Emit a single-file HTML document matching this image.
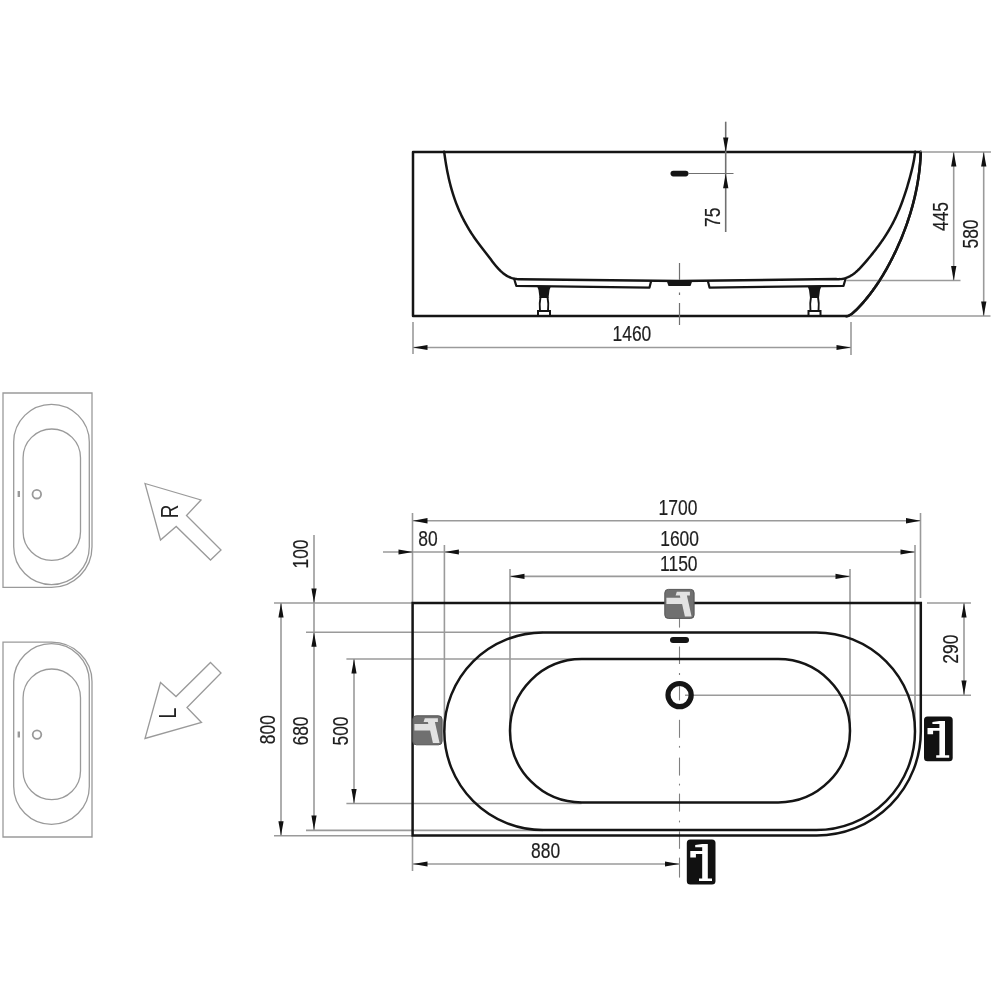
<!DOCTYPE html>
<html><head><meta charset="utf-8"><style>
html,body{margin:0;padding:0;background:#fff;width:1000px;height:1000px;overflow:hidden}
svg{display:block;will-change:transform}
</style></head><body>
<svg width="1000" height="1000" viewBox="0 0 1000 1000">
<rect width="1000" height="1000" fill="#fff"/>
<g fill="none" stroke="#151515" stroke-width="2.50" stroke-linejoin="round" stroke-linecap="round">
<path d="M413,152 H920 M413,152 V316 H846"/>
<path d="M444.17,151.76 L444.38,153.32 L444.59,154.87 L444.81,156.43 L445.04,157.99 L445.27,159.54 L445.51,161.10 L445.76,162.65 L446.02,164.21 L446.28,165.76 L446.56,167.32 L446.84,168.87 L447.13,170.42 L447.43,171.97 L447.75,173.52 L448.07,175.06 L448.40,176.61 L448.74,178.15 L449.10,179.68 L449.46,181.22 L449.83,182.75 L450.22,184.28 L450.62,185.81 L451.03,187.34 L451.45,188.86 L451.89,190.37 L452.34,191.89 L452.80,193.40 L453.27,194.90 L453.76,196.40 L454.26,197.90 L454.78,199.39 L455.31,200.87 L455.85,202.36 L456.41,203.83 L456.99,205.30 L457.58,206.77 L458.19,208.23 L458.81,209.68 L459.44,211.13 L460.09,212.57 L460.76,214.00 L461.43,215.43 L462.13,216.85 L462.83,218.26 L463.55,219.67 L464.28,221.07 L465.03,222.46 L465.79,223.85 L466.56,225.22 L467.35,226.59 L468.14,227.95 L468.95,229.30 L469.77,230.64 L470.61,231.98 L471.45,233.30 L472.31,234.62 L473.18,235.92 L474.05,237.22 L474.94,238.51 L475.84,239.78 L476.75,241.05 L477.67,242.31 L478.61,243.55 L479.55,244.79 L480.49,246.03 L481.45,247.26 L482.41,248.49 L483.37,249.72 L484.34,250.95 L485.31,252.19 L486.28,253.44 L487.25,254.70 L488.22,255.97 L489.19,257.26 L490.16,258.55 L491.13,259.85 L492.11,261.14 L493.10,262.43 L494.10,263.71 L495.11,264.97 L496.14,266.21 L497.18,267.42 L498.25,268.60 L499.34,269.75 L500.46,270.85 L501.60,271.91 L502.77,272.91 L503.98,273.86 L505.22,274.75 L506.50,275.58 L507.82,276.33 L509.18,277.00 L510.59,277.60 L512.04,278.11 L513.55,278.52 L515.10,278.84 L516.71,279.06 L518.38,279.18 L520.11,279.18 L679.5,281 L835.94,279.10 L837.44,279.19 L838.89,279.19 L840.30,279.12 L841.67,278.96 L843.00,278.74 L844.29,278.44 L845.55,278.08 L846.77,277.66 L847.96,277.17 L849.12,276.63 L850.25,276.04 L851.35,275.39 L852.43,274.70 L853.48,273.97 L854.51,273.19 L855.51,272.38 L856.50,271.53 L857.47,270.65 L858.42,269.74 L859.36,268.81 L860.28,267.86 L861.19,266.88 L862.09,265.90 L862.99,264.90 L863.88,263.89 L864.76,262.88 L865.64,261.86 L866.51,260.84 L867.38,259.82 L868.24,258.79 L869.10,257.76 L869.96,256.73 L870.81,255.69 L871.66,254.65 L872.50,253.61 L873.33,252.56 L874.16,251.51 L874.98,250.46 L875.80,249.40 L876.61,248.34 L877.42,247.27 L878.21,246.20 L879.01,245.13 L879.79,244.05 L880.57,242.97 L881.33,241.88 L882.10,240.79 L882.85,239.69 L883.60,238.59 L884.33,237.48 L885.06,236.37 L885.78,235.26 L886.49,234.13 L887.20,233.01 L887.89,231.88 L888.57,230.74 L889.25,229.60 L889.91,228.45 L890.57,227.30 L891.22,226.14 L891.85,224.98 L892.48,223.81 L893.09,222.63 L893.69,221.45 L894.29,220.27 L894.87,219.08 L895.45,217.88 L896.02,216.68 L896.57,215.48 L897.12,214.27 L897.66,213.06 L898.19,211.84 L898.71,210.62 L899.23,209.39 L899.73,208.16 L900.23,206.93 L900.72,205.69 L901.20,204.45 L901.68,203.20 L902.14,201.96 L902.60,200.71 L903.05,199.45 L903.50,198.20 L903.94,196.94 L904.37,195.67 L904.79,194.41 L905.21,193.14 L905.62,191.87 L906.03,190.60 L906.43,189.33 L906.82,188.05 L907.21,186.77 L907.59,185.49 L907.97,184.21 L908.34,182.93 L908.71,181.65 L909.07,180.36 L909.42,179.08 L909.78,177.79 L910.12,176.51 L910.47,175.22 L910.81,173.93 L911.14,172.64 L911.47,171.35 L911.79,170.06 L912.10,168.77 L912.41,167.47 L912.71,166.18 L912.99,164.88 L913.27,163.58 L913.53,162.28 L913.78,160.98 L914.02,159.67 L914.24,158.36 L914.45,157.05 L914.64,155.74 L914.82,154.42 L914.97,153.10 L915.11,151.77"/>
<path d="M846.18,316.30 L847.50,316.09 L848.71,315.69 L849.84,315.14 L850.91,314.46 L851.93,313.69 L852.93,312.87 L853.92,312.02 L854.90,311.14 L855.87,310.24 L856.83,309.31 L857.78,308.36 L858.73,307.40 L859.66,306.42 L860.59,305.42 L861.51,304.41 L862.42,303.38 L863.32,302.35 L864.21,301.31 L865.09,300.27 L865.96,299.22 L866.82,298.16 L867.68,297.10 L868.52,296.04 L869.35,294.97 L870.18,293.90 L871.00,292.82 L871.81,291.74 L872.61,290.66 L873.40,289.57 L874.18,288.47 L874.96,287.38 L875.73,286.27 L876.49,285.17 L877.24,284.06 L877.98,282.94 L878.72,281.82 L879.45,280.70 L880.17,279.57 L880.88,278.44 L881.59,277.31 L882.29,276.17 L882.98,275.03 L883.67,273.88 L884.35,272.73 L885.02,271.58 L885.69,270.42 L886.35,269.26 L887.00,268.09 L887.65,266.92 L888.29,265.75 L888.92,264.58 L889.55,263.40 L890.17,262.22 L890.79,261.03 L891.40,259.84 L892.01,258.65 L892.61,257.45 L893.21,256.25 L893.80,255.05 L894.38,253.85 L894.96,252.64 L895.54,251.43 L896.11,250.21 L896.67,248.99 L897.23,247.77 L897.78,246.55 L898.33,245.32 L898.87,244.09 L899.41,242.86 L899.94,241.63 L900.47,240.39 L900.99,239.15 L901.51,237.90 L902.02,236.66 L902.52,235.41 L903.02,234.16 L903.51,232.90 L904.00,231.65 L904.48,230.39 L904.95,229.13 L905.42,227.86 L905.88,226.60 L906.34,225.33 L906.79,224.06 L907.23,222.79 L907.67,221.51 L908.10,220.23 L908.53,218.95 L908.94,217.67 L909.36,216.39 L909.76,215.10 L910.16,213.82 L910.55,212.53 L910.94,211.24 L911.32,209.94 L911.69,208.65 L912.06,207.35 L912.42,206.05 L912.77,204.75 L913.12,203.45 L913.45,202.15 L913.79,200.84 L914.11,199.54 L914.43,198.23 L914.74,196.92 L915.04,195.61 L915.34,194.30 L915.63,192.98 L915.91,191.67 L916.18,190.35 L916.45,189.03 L916.71,187.72 L916.96,186.40 L917.21,185.08 L917.44,183.75 L917.67,182.43 L917.89,181.11 L918.11,179.78 L918.31,178.46 L918.51,177.13 L918.70,175.80 L918.89,174.47 L919.06,173.14 L919.23,171.81 L919.39,170.48 L919.54,169.15 L919.68,167.82 L919.82,166.49 L919.94,165.16 L920.06,163.82 L920.17,162.49 L920.27,161.15 L920.37,159.82 L920.45,158.48 L920.53,157.15 L920.59,155.81 L920.65,154.48 L920.70,153.14 L920.75,151.81"/>
<path d="M514.2,279 L516.3,285.9 L649.5,287.6 L651,281.5" stroke-width="2.2"/>
<path d="M708,281.5 L709.5,287.6 L843.5,285.9 L845.5,279" stroke-width="2.2"/>
</g>
<polygon points="666.5,280.5 668.5,286 690.5,286 692.5,280.5" fill="#151515"/>
<path d="M537.0,286 H551.0 L549.5,290 L548.5,298 H539.5 L538.5,290 Z" fill="#151515"/>
<path d="M540.5,297 C539.2,303 539.5,306 540.0,311 M547.5,297 C548.8,303 548.5,306 548.0,311" fill="none" stroke="#151515" stroke-width="1.9"/>
<rect x="538.0" y="311" width="12" height="4.8" fill="#fff" stroke="#151515" stroke-width="2"/>
<path d="M807.5,286 H821.5 L820.0,290 L819.0,298 H810.0 L809.0,290 Z" fill="#151515"/>
<path d="M811.0,297 C809.7,303 810.0,306 810.5,311 M818.0,297 C819.3,303 819.0,306 818.5,311" fill="none" stroke="#151515" stroke-width="1.9"/>
<rect x="808.5" y="311" width="12" height="4.8" fill="#fff" stroke="#151515" stroke-width="2"/>
<rect x="670.5" y="170.8" width="18" height="5.6" rx="2.8" fill="#151515"/>
<line x1="679.5" y1="263.0" x2="679.5" y2="280.0" stroke="#707070" stroke-width="1.20"/>
<line x1="679.5" y1="292.5" x2="679.5" y2="295.0" stroke="#707070" stroke-width="1.20"/>
<line x1="679.5" y1="303.0" x2="679.5" y2="325.0" stroke="#707070" stroke-width="1.20"/>
<line x1="725.7" y1="121.7" x2="725.7" y2="232.0" stroke="#707070" stroke-width="1.60"/>
<polygon points="725.7,152.0 723.1,137.5 728.4,137.5" fill="#111"/>
<polygon points="725.7,173.7 728.4,188.2 723.1,188.2" fill="#111"/>
<line x1="688.0" y1="173.5" x2="733.5" y2="173.5" stroke="#707070" stroke-width="1.00"/>
<text transform="translate(720.0,217.2) rotate(-90) scale(0.800,1)" font-family="Liberation Sans" font-size="21.8" fill="#1e1e1e" stroke="#1e1e1e" stroke-width="0.20" text-anchor="middle">75</text>
<line x1="920.0" y1="152.0" x2="991.0" y2="152.0" stroke="#9a9a9a" stroke-width="1.60"/>
<line x1="846.0" y1="280.5" x2="960.5" y2="280.5" stroke="#9a9a9a" stroke-width="1.60"/>
<line x1="851.0" y1="316.0" x2="990.5" y2="316.0" stroke="#9a9a9a" stroke-width="1.60"/>
<line x1="953.7" y1="152.0" x2="953.7" y2="280.5" stroke="#9a9a9a" stroke-width="1.60"/>
<polygon points="953.7,152.0 956.4,166.5 951.1,166.5" fill="#111"/>
<polygon points="953.7,280.5 951.1,266.0 956.4,266.0" fill="#111"/>
<line x1="983.7" y1="152.0" x2="983.7" y2="316.0" stroke="#9a9a9a" stroke-width="1.60"/>
<polygon points="983.7,152.0 986.4,166.5 981.1,166.5" fill="#111"/>
<polygon points="983.7,316.0 981.1,301.5 986.4,301.5" fill="#111"/>
<text transform="translate(948.0,216.5) rotate(-90) scale(0.800,1)" font-family="Liberation Sans" font-size="21.8" fill="#1e1e1e" stroke="#1e1e1e" stroke-width="0.20" text-anchor="middle">445</text>
<text transform="translate(977.5,234.0) rotate(-90) scale(0.800,1)" font-family="Liberation Sans" font-size="21.8" fill="#1e1e1e" stroke="#1e1e1e" stroke-width="0.20" text-anchor="middle">580</text>
<path d="M846.18,316.30 L847.50,316.09 L848.71,315.69 L849.84,315.14 L850.91,314.46 L851.93,313.69 L852.93,312.87 L853.92,312.02 L854.90,311.14 L855.87,310.24 L856.83,309.31 L857.78,308.36 L858.73,307.40 L859.66,306.42 L860.59,305.42 L861.51,304.41 L862.42,303.38 L863.32,302.35 L864.21,301.31 L865.09,300.27 L865.96,299.22 L866.82,298.16 L867.68,297.10 L868.52,296.04 L869.35,294.97 L870.18,293.90 L871.00,292.82 L871.81,291.74 L872.61,290.66 L873.40,289.57 L874.18,288.47 L874.96,287.38 L875.73,286.27 L876.49,285.17 L877.24,284.06 L877.98,282.94 L878.72,281.82 L879.45,280.70 L880.17,279.57 L880.88,278.44 L881.59,277.31 L882.29,276.17 L882.98,275.03 L883.67,273.88 L884.35,272.73 L885.02,271.58 L885.69,270.42 L886.35,269.26 L887.00,268.09 L887.65,266.92 L888.29,265.75 L888.92,264.58 L889.55,263.40 L890.17,262.22 L890.79,261.03 L891.40,259.84 L892.01,258.65 L892.61,257.45 L893.21,256.25 L893.80,255.05 L894.38,253.85 L894.96,252.64 L895.54,251.43 L896.11,250.21 L896.67,248.99 L897.23,247.77 L897.78,246.55 L898.33,245.32 L898.87,244.09 L899.41,242.86 L899.94,241.63 L900.47,240.39 L900.99,239.15 L901.51,237.90 L902.02,236.66 L902.52,235.41 L903.02,234.16 L903.51,232.90 L904.00,231.65 L904.48,230.39 L904.95,229.13 L905.42,227.86 L905.88,226.60 L906.34,225.33 L906.79,224.06 L907.23,222.79 L907.67,221.51 L908.10,220.23 L908.53,218.95 L908.94,217.67 L909.36,216.39 L909.76,215.10 L910.16,213.82 L910.55,212.53 L910.94,211.24 L911.32,209.94 L911.69,208.65 L912.06,207.35 L912.42,206.05 L912.77,204.75 L913.12,203.45 L913.45,202.15 L913.79,200.84 L914.11,199.54 L914.43,198.23 L914.74,196.92 L915.04,195.61 L915.34,194.30 L915.63,192.98 L915.91,191.67 L916.18,190.35 L916.45,189.03 L916.71,187.72 L916.96,186.40 L917.21,185.08 L917.44,183.75 L917.67,182.43 L917.89,181.11 L918.11,179.78 L918.31,178.46 L918.51,177.13 L918.70,175.80 L918.89,174.47 L919.06,173.14 L919.23,171.81 L919.39,170.48 L919.54,169.15 L919.68,167.82 L919.82,166.49 L919.94,165.16 L920.06,163.82 L920.17,162.49 L920.27,161.15 L920.37,159.82 L920.45,158.48 L920.53,157.15 L920.59,155.81 L920.65,154.48 L920.70,153.14 L920.75,151.81" fill="none" stroke="#151515" stroke-width="2.50"/>
<line x1="413.0" y1="322.0" x2="413.0" y2="354.0" stroke="#9a9a9a" stroke-width="1.60"/>
<line x1="851.0" y1="322.0" x2="851.0" y2="355.0" stroke="#9a9a9a" stroke-width="1.60"/>
<line x1="413.0" y1="347.5" x2="851.0" y2="347.5" stroke="#9a9a9a" stroke-width="1.60"/>
<polygon points="413.0,347.5 427.5,344.9 427.5,350.1" fill="#111"/>
<polygon points="851.0,347.5 836.5,350.1 836.5,344.9" fill="#111"/>
<text transform="translate(631.9,341.3) scale(0.800,1)" font-family="Liberation Sans" font-size="21.8" fill="#1e1e1e" stroke="#1e1e1e" stroke-width="0.20" text-anchor="middle">1460</text>
<rect x="670" y="637" width="19" height="6" rx="3" fill="#151515"/>
<line x1="412.5" y1="513.0" x2="412.5" y2="603.0" stroke="#9a9a9a" stroke-width="1.60"/>
<line x1="920.5" y1="513.0" x2="920.5" y2="598.0" stroke="#9a9a9a" stroke-width="1.60"/>
<line x1="444.4" y1="545.0" x2="444.4" y2="731.0" stroke="#9a9a9a" stroke-width="1.60"/>
<line x1="915.0" y1="545.0" x2="915.0" y2="731.0" stroke="#9a9a9a" stroke-width="1.60"/>
<line x1="510.0" y1="569.0" x2="510.0" y2="730.5" stroke="#9a9a9a" stroke-width="1.60"/>
<line x1="850.0" y1="569.0" x2="850.0" y2="730.5" stroke="#9a9a9a" stroke-width="1.60"/>
<line x1="274.0" y1="603.0" x2="413.0" y2="603.0" stroke="#9a9a9a" stroke-width="1.60"/>
<line x1="927.0" y1="603.0" x2="971.0" y2="603.0" stroke="#9a9a9a" stroke-width="1.60"/>
<line x1="306.0" y1="632.3" x2="543.0" y2="632.3" stroke="#9a9a9a" stroke-width="1.60"/>
<line x1="346.4" y1="659.0" x2="581.5" y2="659.0" stroke="#9a9a9a" stroke-width="1.60"/>
<line x1="346.4" y1="803.5" x2="581.5" y2="803.5" stroke="#9a9a9a" stroke-width="1.60"/>
<line x1="306.0" y1="830.4" x2="543.0" y2="830.4" stroke="#9a9a9a" stroke-width="1.60"/>
<line x1="274.0" y1="835.7" x2="413.0" y2="835.7" stroke="#9a9a9a" stroke-width="1.60"/>
<line x1="685.0" y1="695.2" x2="971.0" y2="695.2" stroke="#9a9a9a" stroke-width="1.60"/>
<line x1="412.5" y1="836.0" x2="412.5" y2="871.0" stroke="#9a9a9a" stroke-width="1.60"/>
<line x1="679.5" y1="618.5" x2="679.5" y2="627.6" stroke="#808080" stroke-width="1.10"/>
<line x1="679.5" y1="646.5" x2="679.5" y2="664.0" stroke="#808080" stroke-width="1.10"/>
<line x1="679.5" y1="673.0" x2="679.5" y2="675.0" stroke="#808080" stroke-width="1.10"/>
<line x1="679.5" y1="686.0" x2="679.5" y2="700.4" stroke="#808080" stroke-width="1.10"/>
<line x1="679.5" y1="719.8" x2="679.5" y2="737.8" stroke="#808080" stroke-width="1.10"/>
<line x1="679.5" y1="745.9" x2="679.5" y2="747.7" stroke="#808080" stroke-width="1.10"/>
<line x1="679.5" y1="757.6" x2="679.5" y2="775.6" stroke="#808080" stroke-width="1.10"/>
<line x1="679.5" y1="783.7" x2="679.5" y2="785.5" stroke="#808080" stroke-width="1.10"/>
<line x1="679.5" y1="793.6" x2="679.5" y2="811.6" stroke="#808080" stroke-width="1.10"/>
<line x1="679.5" y1="820.6" x2="679.5" y2="822.4" stroke="#808080" stroke-width="1.10"/>
<line x1="679.5" y1="831.4" x2="679.5" y2="848.8" stroke="#808080" stroke-width="1.10"/>
<line x1="679.5" y1="857.6" x2="679.5" y2="877.6" stroke="#808080" stroke-width="1.10"/>
<g fill="none" stroke="#151515" stroke-width="2.50">
<path d="M412.6,603 H920.8 V731 A104,104 0 0 1 816.8,835.5 H412.6 Z"/>
<rect x="444.3" y="632.5" width="470.7" height="197.5" rx="98.75"/>
<rect x="510" y="659" width="340" height="143.5" rx="71.75"/>
</g>
<circle cx="679.6" cy="695.1" r="11.6" fill="none" stroke="#151515" stroke-width="5.2"/>
<line x1="413.0" y1="520.8" x2="920.5" y2="520.8" stroke="#9a9a9a" stroke-width="1.60"/>
<polygon points="413.0,520.8 427.5,518.1 427.5,523.4" fill="#111"/>
<polygon points="920.5,520.8 906.0,523.4 906.0,518.1" fill="#111"/>
<line x1="383.0" y1="552.0" x2="915.0" y2="552.0" stroke="#9a9a9a" stroke-width="1.60"/>
<polygon points="413.0,552.0 398.5,554.6 398.5,549.4" fill="#111"/>
<polygon points="444.4,552.0 458.9,549.4 458.9,554.6" fill="#111"/>
<polygon points="915.0,552.0 900.5,554.6 900.5,549.4" fill="#111"/>
<line x1="510.0" y1="576.4" x2="850.0" y2="576.4" stroke="#9a9a9a" stroke-width="1.60"/>
<polygon points="510.0,576.4 524.5,573.8 524.5,579.0" fill="#111"/>
<polygon points="850.0,576.4 835.5,579.0 835.5,573.8" fill="#111"/>
<line x1="413.0" y1="864.0" x2="679.5" y2="864.0" stroke="#9a9a9a" stroke-width="1.60"/>
<polygon points="413.0,864.0 427.5,861.4 427.5,866.6" fill="#111"/>
<polygon points="679.5,864.0 665.0,866.6 665.0,861.4" fill="#111"/>
<line x1="281.0" y1="603.0" x2="281.0" y2="835.7" stroke="#9a9a9a" stroke-width="1.60"/>
<polygon points="281.0,603.0 283.6,617.5 278.4,617.5" fill="#111"/>
<polygon points="281.0,835.7 278.4,821.2 283.6,821.2" fill="#111"/>
<line x1="314.0" y1="535.0" x2="314.0" y2="830.0" stroke="#9a9a9a" stroke-width="1.60"/>
<polygon points="314.0,603.0 311.4,588.5 316.6,588.5" fill="#111"/>
<polygon points="314.0,632.3 316.6,646.8 311.4,646.8" fill="#111"/>
<polygon points="314.0,830.0 311.4,815.5 316.6,815.5" fill="#111"/>
<line x1="354.0" y1="659.0" x2="354.0" y2="803.5" stroke="#9a9a9a" stroke-width="1.60"/>
<polygon points="354.0,659.0 356.6,673.5 351.4,673.5" fill="#111"/>
<polygon points="354.0,803.5 351.4,789.0 356.6,789.0" fill="#111"/>
<line x1="964.0" y1="603.0" x2="964.0" y2="695.0" stroke="#9a9a9a" stroke-width="1.60"/>
<polygon points="964.0,603.0 966.6,617.5 961.4,617.5" fill="#111"/>
<polygon points="964.0,695.0 961.4,680.5 966.6,680.5" fill="#111"/>
<text transform="translate(678.0,514.6) scale(0.800,1)" font-family="Liberation Sans" font-size="21.8" fill="#1e1e1e" stroke="#1e1e1e" stroke-width="0.20" text-anchor="middle">1700</text>
<text transform="translate(679.6,545.6) scale(0.800,1)" font-family="Liberation Sans" font-size="21.8" fill="#1e1e1e" stroke="#1e1e1e" stroke-width="0.20" text-anchor="middle">1600</text>
<text transform="translate(678.8,570.6) scale(0.800,1)" font-family="Liberation Sans" font-size="21.8" fill="#1e1e1e" stroke="#1e1e1e" stroke-width="0.20" text-anchor="middle">1150</text>
<text transform="translate(428.0,545.6) scale(0.800,1)" font-family="Liberation Sans" font-size="21.8" fill="#1e1e1e" stroke="#1e1e1e" stroke-width="0.20" text-anchor="middle">80</text>
<text transform="translate(545.6,858.2) scale(0.800,1)" font-family="Liberation Sans" font-size="21.8" fill="#1e1e1e" stroke="#1e1e1e" stroke-width="0.20" text-anchor="middle">880</text>
<text transform="translate(308.0,554.0) rotate(-90) scale(0.800,1)" font-family="Liberation Sans" font-size="21.8" fill="#1e1e1e" stroke="#1e1e1e" stroke-width="0.20" text-anchor="middle">100</text>
<text transform="translate(274.5,729.7) rotate(-90) scale(0.800,1)" font-family="Liberation Sans" font-size="21.8" fill="#1e1e1e" stroke="#1e1e1e" stroke-width="0.20" text-anchor="middle">800</text>
<text transform="translate(308.3,731.0) rotate(-90) scale(0.800,1)" font-family="Liberation Sans" font-size="21.8" fill="#1e1e1e" stroke="#1e1e1e" stroke-width="0.20" text-anchor="middle">680</text>
<text transform="translate(348.3,731.0) rotate(-90) scale(0.800,1)" font-family="Liberation Sans" font-size="21.8" fill="#1e1e1e" stroke="#1e1e1e" stroke-width="0.20" text-anchor="middle">500</text>
<text transform="translate(957.5,649.2) rotate(-90) scale(0.800,1)" font-family="Liberation Sans" font-size="21.8" fill="#1e1e1e" stroke="#1e1e1e" stroke-width="0.20" text-anchor="middle">290</text>
<g transform="translate(924.0,716.4)">
<rect x="0" y="0" width="28.7" height="44.8" rx="3.5" fill="#111"/>
<path d="M8.4,5.5 L15.4,4.5 H21 V38.8 H25.2 V41.3 H12.2 V38.8 H15.4 V14.3 H9.1 V17.8 H3.5 V11.5 H15.4 V7.7 H8.4 Z" fill="#fff"/>
</g>
<g transform="translate(686.8,839.6)">
<rect x="0" y="0" width="28.7" height="44.8" rx="3.5" fill="#111"/>
<path d="M8.4,5.5 L15.4,4.5 H21 V38.8 H25.2 V41.3 H12.2 V38.8 H15.4 V14.3 H9.1 V17.8 H3.5 V11.5 H15.4 V7.7 H8.4 Z" fill="#fff"/>
</g>
<g transform="translate(664.3,588.9)">
<rect x="0.5" y="0.5" width="29.3" height="29" rx="3.5" fill="#707070" stroke="#555" stroke-width="1"/>
<path d="M11.3,6.7 L12.5,2.9 H25.6 V6.7 H22.6 L27.3,27.7 H20.6 L17.8,15.1 H2.1 V8.8 H16 L15.6,6.7 Z" fill="#e2e2e2"/>
</g>
<g transform="translate(412.3,715.3)">
<rect x="0.5" y="0.5" width="29.3" height="29" rx="3.5" fill="#707070" stroke="#555" stroke-width="1"/>
<path d="M11.3,6.7 L12.5,2.9 H25.6 V6.7 H22.6 L27.3,27.7 H20.6 L17.8,15.1 H2.1 V8.8 H16 L15.6,6.7 Z" fill="#e2e2e2"/>
</g>
<g fill="none" stroke="#9a9a9a" stroke-width="1.3">
<path d="M3,393 H92 V546.8 A40.5,40.5 0 0 1 51.5,587.3 H3 Z"/>
<rect x="13.7" y="404.3" width="75.6" height="180.3" rx="37.8"/>
<rect x="23.1" y="429" width="57.4" height="131.4" rx="28.7"/>
<circle cx="36.8" cy="494.2" r="4.3" stroke-width="1.8"/>
<path d="M3,837 H92 V681.5 A40.5,39.3 0 0 0 51.5,642.2 H3 Z"/>
<rect x="13.7" y="643.7" width="75.6" height="180.6" rx="37.8"/>
<rect x="23.1" y="669" width="57.4" height="130.7" rx="28.7"/>
<circle cx="37" cy="734.6" r="4.3" stroke-width="1.8"/>
<polygon points="145,483.5 201,500 186.5,515.5 221,550 210.5,560 176.2,526.5 160.5,540"/>
<polygon points="210.5,662.5 221,673 187,707.5 201.5,722.5 145,738.5 160.5,682.5 176,696.5"/>
</g>
<rect x="17.6" y="491" width="2.4" height="6" fill="#999"/>
<rect x="17.6" y="731.5" width="2.4" height="6" fill="#999"/>
<text transform="translate(178.0,511.5) rotate(-90) scale(0.800,1)" font-family="Liberation Sans" font-size="23.5" fill="#222" stroke="#222" stroke-width="0.00" text-anchor="middle">R</text>
<text transform="translate(175.8,713.2) rotate(-90) scale(0.850,1)" font-family="Liberation Sans" font-size="23.5" fill="#222" stroke="#222" stroke-width="0.00" text-anchor="middle">L</text>
</svg></body></html>
